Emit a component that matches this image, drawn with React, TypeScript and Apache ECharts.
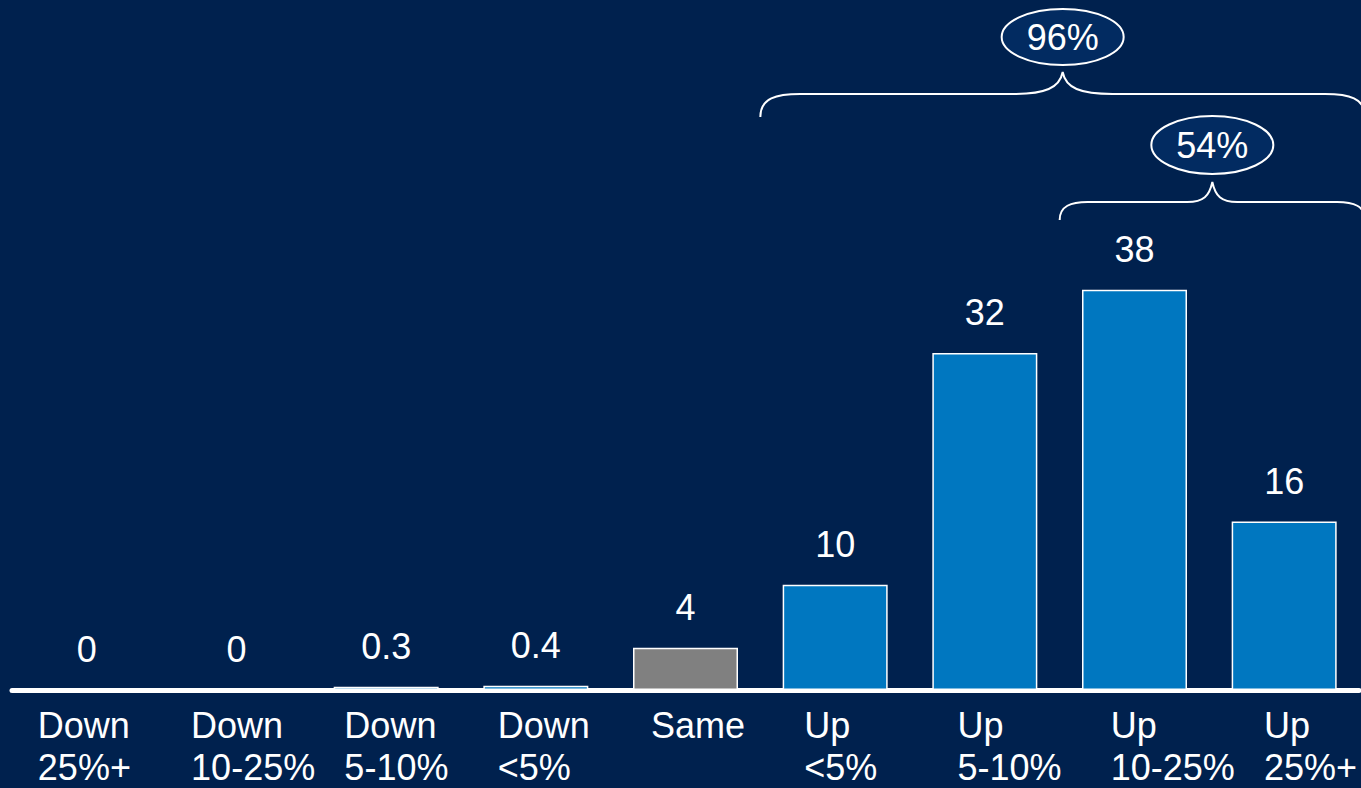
import React, { useEffect, useRef } from "react";
import * as echarts from "echarts";

// ---- data ----
const categories = [
  "Down\n25%+",
  "Down\n10-25%",
  "Down\n5-10%",
  "Down\n<5%",
  "Same",
  "Up\n<5%",
  "Up\n5-10%",
  "Up\n10-25%",
  "Up\n25%+",
];
const values = [0, 0, 0.3, 0.4, 4, 10, 32, 38, 16];
const barKinds = ["down", "down", "down", "down", "same", "up", "up", "up", "up"];
const bracketLabels = ["96%", "54%"];
const bracketFrom = [5, 7];
const bracketTo = [8, 8];

// ---- styles ----
const BG = "#00214E";
const BLUE = "#0077C0";
const GRAY = "#808080";
const ELLIPSE_FILL = "#022B61";
const FONT = "Liberation Sans";
const FS = 36;
const kindColor: Record<string, string> = { down: BLUE, same: GRAY, up: BLUE };

// category label block: left-aligned, offset from bar centre (drifts slightly rightwards)
const LABEL_OFFSET0 = -49;
const LABEL_DRIFT = 3.6;
const LABEL_TOP = 704;
const LABEL_LH = 42;

// annotation layout (pixels)
const bracketLayout = [
  { yEnd: 117, yH: 94, yTip: 72, ow: 40, iw: 50, ecy: 37, rx: 61, ry: 28 },
  { yEnd: 220, yH: 202, yTip: 182, ow: 28, iw: 25, ecy: 145, rx: 61, ry: 29 },
];

function bracePath(x1: number, x2: number, l: any) {
  const xm = (x1 + x2) / 2;
  const { yEnd, yH, yTip, ow, iw } = l;
  return [
    `M ${x1} ${yEnd}`,
    `C ${x1} ${yH + 4} ${x1 + ow * 0.4} ${yH} ${x1 + ow} ${yH}`,
    `L ${xm - iw} ${yH}`,
    `C ${xm - iw * 0.35} ${yH} ${xm - 3} ${yH - 6} ${xm} ${yTip}`,
    `C ${xm + 3} ${yH - 6} ${xm + iw * 0.35} ${yH} ${xm + iw} ${yH}`,
    `L ${x2 - ow} ${yH}`,
    `C ${x2 - ow * 0.4} ${yH} ${x2} ${yH + 4} ${x2} ${yEnd}`,
  ].join(" ");
}

export default function App() {
  const ref = useRef<HTMLDivElement>(null);

  useEffect(() => {
    if (!ref.current) return;
    const chart = echarts.init(ref.current, null, { renderer: "svg" });
    chart.setOption({
      animation: false,
      backgroundColor: BG,
      grid: { left: 12, right: 2, top: 58, bottom: 98 },
      xAxis: {
        type: "category",
        data: categories,
        axisLine: { show: true, lineStyle: { color: "#fff", width: 5, cap: "round" } },
        axisTick: { show: false },
        axisLabel: { show: false },
      },
      yAxis: { type: "value", min: 0, max: 60, show: false },
      series: [
        {
          type: "bar",
          barWidth: 105,
          data: values.map((v, i) => ({
            value: v,
            itemStyle: { color: kindColor[barKinds[i]] },
          })),
          itemStyle: { borderColor: "#fff", borderWidth: 1.5 },
          label: {
            show: true,
            position: "top",
            distance: 22,
            color: "#fff",
            fontSize: FS,
            fontFamily: FONT,
          },
        },
      ],
    });

    const px = (i: number) => chart.convertToPixel({ xAxisIndex: 0 }, i) as number;
    const step = px(1) - px(0);
    const graphics: any[] = [];

    categories.forEach((c, i) => {
      graphics.push({
        type: "text",
        x: px(i) + LABEL_OFFSET0 + LABEL_DRIFT * i,
        y: LABEL_TOP,
        style: {
          text: c,
          fill: "#fff",
          fontSize: FS,
          lineHeight: LABEL_LH,
          fontFamily: FONT,
          align: "left",
          verticalAlign: "top",
        },
      });
    });

    bracketLabels.forEach((lab, k) => {
      const l = bracketLayout[k];
      const x1 = px(bracketFrom[k]) - step / 2;
      const x2 = px(bracketTo[k]) + step / 2 + 6;
      const xm = (x1 + x2) / 2;
      const name = "brace" + k;
      echarts.graphic.registerShape(name, echarts.graphic.extendPath(bracePath(x1, x2, l), {}));
      graphics.push({
        type: name,
        x: 0,
        y: 0,
        style: { fill: "none", stroke: "#fff", lineWidth: 2 },
      });
      graphics.push({
        type: "ellipse",
        shape: { cx: xm, cy: l.ecy, rx: l.rx, ry: l.ry },
        style: { fill: ELLIPSE_FILL, stroke: "#fff", lineWidth: 2 },
      });
      graphics.push({
        type: "text",
        x: xm,
        y: l.ecy,
        style: {
          text: lab,
          fill: "#fff",
          fontSize: FS,
          fontFamily: FONT,
          align: "center",
          verticalAlign: "middle",
        },
      });
    });
    chart.setOption({ graphic: graphics });

    return () => chart.dispose();
  }, []);

  return (
    <div
      ref={ref}
      style={{ position: "absolute", left: 0, top: 0, width: 1361, height: 788 }}
    />
  );
}
